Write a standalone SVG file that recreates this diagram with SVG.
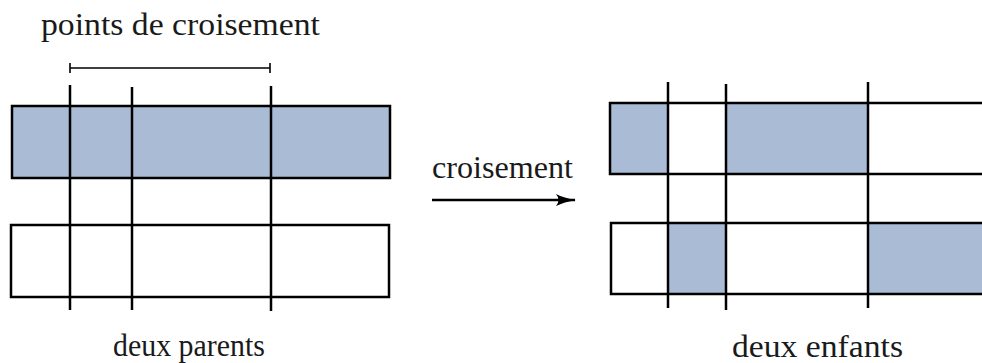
<svg xmlns="http://www.w3.org/2000/svg" width="982" height="363" viewBox="0 0 982 363">
<style>
.bar{stroke:#000;stroke-width:2.5}
.fill{fill:#aabbd6}
.white{fill:#fff}
.cut{stroke:#000;stroke-width:2.5;fill:none}
.lbl{font-family:"Liberation Serif","Times New Roman",serif;font-size:31px;fill:#1a1a1a}
</style>
<defs>
<marker id="ah" markerWidth="20" markerHeight="12" refX="19" refY="6" orient="auto" markerUnits="userSpaceOnUse">
<path d="M0,0 Q8,4 20,6 Q8,8 0,12 Q5,6 0,0 Z" fill="#000"/>
</marker>
</defs>
<rect width="982" height="363" fill="#fff"/>
<g id="parent1">
<rect class="bar fill" x="12" y="106" width="378" height="72"/>
</g>
<g id="parent2">
<rect class="bar white" x="11" y="225" width="378" height="72"/>
</g>
<g id="child1">
<rect class="fill" x="610" y="103" width="58" height="71"/>
<rect class="fill" x="726" y="103" width="142" height="71"/>
<path class="cut" d="M990,103 H610 V174 H990"/>
</g>
<g id="child2">
<rect class="fill" x="668" y="223" width="58" height="71"/>
<rect class="fill" x="868" y="223" width="122" height="71"/>
<path class="cut" d="M990,223 H611 V294 H990"/>
</g>
<g id="connectors">
<line class="cut" x1="70" y1="85" x2="70" y2="310"/>
<line class="cut" x1="132" y1="87" x2="132" y2="310"/>
<line class="cut" x1="271" y1="86" x2="271" y2="311"/>
<line class="cut" x1="668" y1="82" x2="668" y2="308"/>
<line class="cut" x1="726" y1="84" x2="726" y2="310"/>
<line class="cut" x1="868" y1="82" x2="868" y2="308"/>
<path d="M70,63 V73 M70,68 H270 M270,63 V73" stroke="#000" stroke-width="1.6" fill="none"/>
<line x1="432" y1="200" x2="575" y2="200" stroke="#000" stroke-width="2.5" marker-end="url(#ah)"/>
</g>
<g id="labels">
<text class="lbl" x="41" y="35" textLength="279" lengthAdjust="spacingAndGlyphs">points de croisement</text>
<text class="lbl" x="432" y="178" textLength="141" lengthAdjust="spacingAndGlyphs">croisement</text>
<text class="lbl" x="113" y="356" textLength="152" lengthAdjust="spacingAndGlyphs">deux parents</text>
<text class="lbl" x="732" y="357" textLength="171" lengthAdjust="spacingAndGlyphs">deux enfants</text>
</g>
</svg>
